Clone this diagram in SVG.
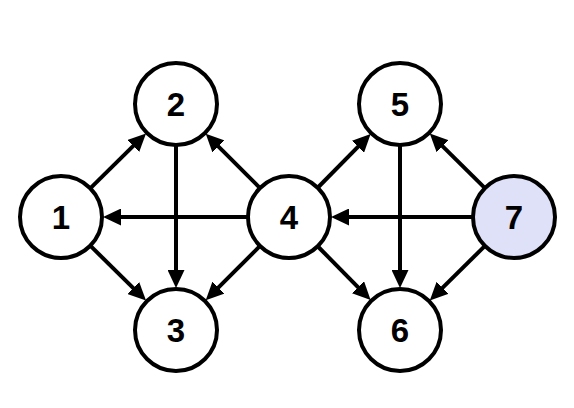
<svg xmlns="http://www.w3.org/2000/svg" width="574" height="408" viewBox="0 0 574 408">
  <style>
    .node circle { fill: #ffffff; stroke: #000000; stroke-width: 4; }
    .node.hl circle { fill: #dfe1f8; }
    .node text { font-family: "Liberation Sans", Arial, sans-serif; font-weight: bold; font-size: 33px; fill: #000000; text-anchor: middle; }
    .edges line { stroke: #000000; stroke-width: 4; fill: none; marker-end: url(#arrow); }
  </style>
  <defs>
    <marker id="arrow" markerUnits="userSpaceOnUse" markerWidth="18" markerHeight="17" viewBox="0 0 18 17" refX="8" refY="8.5" orient="auto">
      <path d="M0,0 L18,8.5 L0,17 z" fill="#000000"/>
    </marker>
  </defs>
  <rect width="574" height="408" fill="#ffffff"/>
  <g id="connectors" class="edges">
    <line x1="91" y1="187.6" x2="138.9" y2="140.4"/>
    <line x1="259.3" y1="187.3" x2="212.8" y2="140.8"/>
    <line x1="91" y1="246.4" x2="138.9" y2="293.6"/>
    <line x1="259.3" y1="246.7" x2="212.8" y2="293.2"/>
    <line x1="176" y1="146" x2="176" y2="278"/>
    <line x1="247" y1="217" x2="113" y2="217"/>
    <line x1="318.4" y1="187" x2="363.6" y2="141.1"/>
    <line x1="318.4" y1="247" x2="363.6" y2="292.9"/>
    <line x1="400" y1="146" x2="400" y2="278"/>
    <line x1="484.2" y1="187.4" x2="436.9" y2="140.6"/>
    <line x1="484.2" y1="246.6" x2="436.9" y2="293.4"/>
    <line x1="472" y1="217" x2="341" y2="217"/>
  </g>
  <g id="node1" class="node"><circle cx="61" cy="217" r="41"/><text x="61" y="229">1</text></g>
  <g id="node2" class="node"><circle cx="176" cy="104" r="41"/><text x="176" y="116">2</text></g>
  <g id="node3" class="node"><circle cx="176" cy="330" r="41"/><text x="176" y="342">3</text></g>
  <g id="node4" class="node"><circle cx="289" cy="217" r="41"/><text x="289" y="229">4</text></g>
  <g id="node5" class="node"><circle cx="400" cy="104" r="41"/><text x="400" y="116">5</text></g>
  <g id="node6" class="node"><circle cx="400" cy="330" r="41"/><text x="400" y="342">6</text></g>
  <g id="node7" class="node hl"><circle cx="514" cy="217" r="41"/><text x="514" y="229">7</text></g>
</svg>
